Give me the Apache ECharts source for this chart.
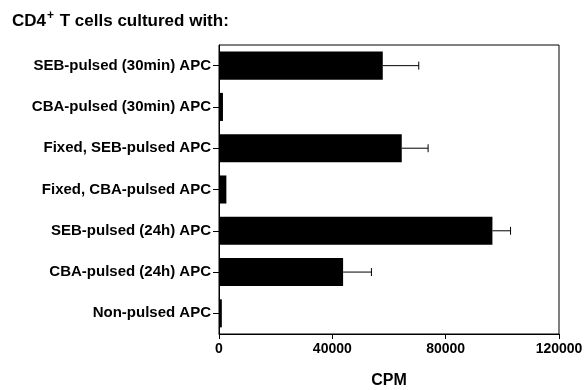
<!DOCTYPE html>
<html><head><meta charset="utf-8">
<script src="https://cdn.jsdelivr.net/npm/echarts@6/dist/echarts.min.js"></script>
<style>html,body{margin:0;padding:0;background:#fff}#c{width:586px;height:390px}</style>
</head><body><div id="c"></div>
<script>
const categories = ["SEB-pulsed (30min) APC","CBA-pulsed (30min) APC","Fixed, SEB-pulsed APC","Fixed, CBA-pulsed APC","SEB-pulsed (24h) APC","CBA-pulsed (24h) APC","Non-pulsed APC"];
const cpmValues = [57800, 1400, 64500, 2600, 96500, 43800, 1000];
const cpmErrors = [12700, 0, 9300, 0, 6400, 10000, 0];
const xTicks = [0, 40000, 80000, 120000];

const font = '"Liberation Sans", Arial, sans-serif';
const chart = echarts.init(document.getElementById('c'), null, {renderer:'canvas'});
chart.setOption({
  animation:false,
  backgroundColor:'#fff',
  title:{
    text:'{a|CD4}{s|+}{a| T cells cultured with:}',
    left:7, top:5,
    textStyle:{rich:{
      a:{fontFamily:font,fontWeight:'bold',fontSize:17,color:'#000',verticalAlign:'bottom',lineHeight:20},
      s:{fontFamily:font,fontWeight:'bold',fontSize:12,color:'#000',verticalAlign:'top',lineHeight:12,padding:[0,1,8,1]}
    }}
  },
  grid:{left:219,right:27,top:45,bottom:56,containLabel:false,outerBoundsMode:'none',show:true,borderColor:'#000',borderWidth:1,backgroundColor:'transparent'},
  xAxis:{
    type:'value',min:0,max:120000,interval:40000,
    name:'CPM',nameLocation:'middle',nameGap:39,
    nameTextStyle:{fontFamily:font,fontWeight:'bold',fontSize:16,color:'#000'},
    axisLine:{show:true,lineStyle:{color:'#000',width:1}},
    axisTick:{show:true,length:5,lineStyle:{color:'#000'}},
    splitLine:{show:false},
    axisLabel:{fontFamily:font,fontWeight:'bold',fontSize:14,color:'#000',margin:8,
      formatter:v=>xTicks.includes(v)?String(v):''}
  },
  yAxis:{
    type:'category',data:categories,inverse:true,
    axisLine:{show:true,lineStyle:{color:'#000',width:1}},
    axisTick:{show:true,alignWithLabel:true,length:6,lineStyle:{color:'#000'}},
    axisLabel:{fontFamily:font,fontWeight:'bold',fontSize:15,color:'#000',margin:8}
  },
  series:[
    {type:'bar',data:cpmValues,barWidth:'68%',itemStyle:{color:'#000'},z:2},
    {type:'custom',z:3,
     data:cpmValues.map((v,i)=>[i,v,cpmErrors[i]]),
     encode:{x:1,y:0},
     renderItem:function(params,api){
       const idx=api.value(0), v=api.value(1), e=api.value(2);
       if(!e) return {type:'group',children:[]};
       const p0=api.coord([v,idx]);
       const p1=api.coord([v+e,idx]);
       const style={stroke:'#000',lineWidth:1};
       return {type:'group',children:[
         {type:'line',shape:{x1:p0[0],y1:p0[1],x2:p1[0],y2:p1[1]},style},
         {type:'line',shape:{x1:p1[0],y1:p1[1]-4,x2:p1[0],y2:p1[1]+4},style}
       ]};
     }}
  ]
});
</script></body></html>
